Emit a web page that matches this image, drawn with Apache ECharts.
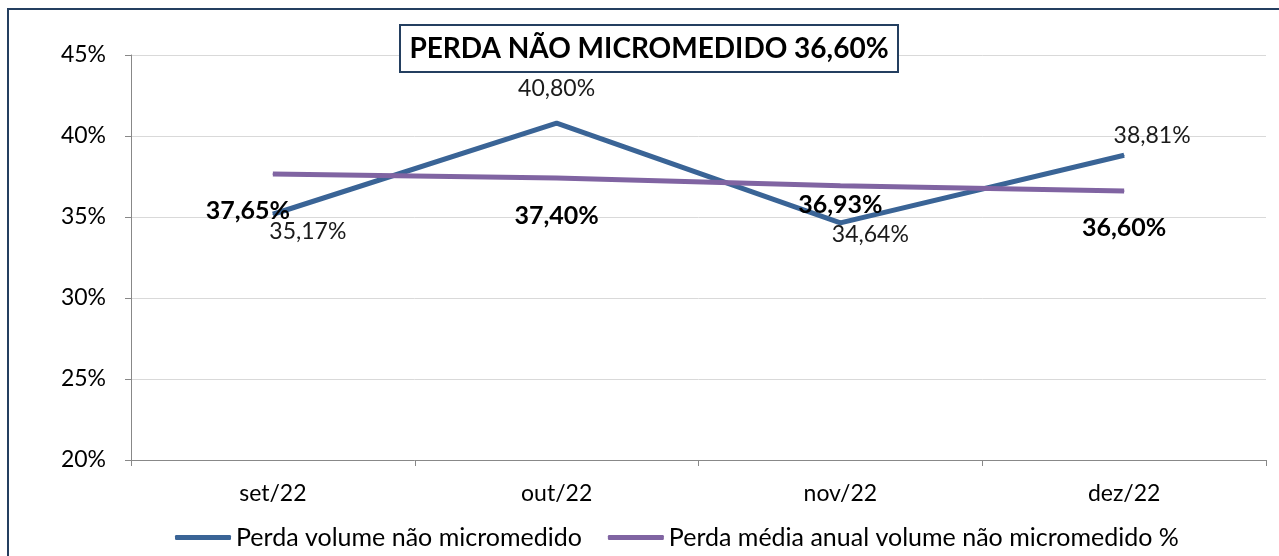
<!DOCTYPE html>
<html><head><meta charset="utf-8">
<script src="https://cdn.jsdelivr.net/npm/echarts@6/dist/echarts.min.js"></script>
<style>
html,body{margin:0;padding:0;background:#fff;overflow:hidden;}
#frame{position:absolute;left:7px;top:8px;width:1290px;height:570px;border:2px solid #243F60;box-sizing:border-box;}
#c{position:absolute;left:0;top:0;width:1279px;height:556px;}
</style></head>
<body>
<div id="frame"></div>
<div id="c"></div>
<script>
const categories = ['set/22','out/22','nov/22','dez/22'];
const perdaVolume = [35.17, 40.80, 34.64, 38.81];
const perdaMedia = [37.65, 37.40, 36.93, 36.60];
const yTicks = [20, 25, 30, 35, 40, 45];
const titleText = 'PERDA NÃO MICROMEDIDO 36,60%';
const seriesNames = ['Perda volume não micromedido', 'Perda média anual volume não micromedido %'];

const FONT = 'Lato';
const fmt = v => v.toFixed(2).replace('.', ',') + '%';

// label centre offsets from the data point
const blueLabelOffset = [[35,17],[0,-34],[30,12],[28,-20]];
const purpleLabelOffset = [[-25,37],[0,38],[0,19],[0,37]];

const chart = echarts.init(document.getElementById('c'), null, {renderer:'canvas'});
chart.setOption({
  animation:false,
  textStyle:{fontFamily:FONT},
  title:{
    text:titleText, left:639, top:25, textAlign:'center',
    textStyle:{fontFamily:FONT, fontWeight:'bold', fontSize:28, color:'#000', lineHeight:28},
    borderColor:'#243F60', borderWidth:2, backgroundColor:'#fff',
    padding:[10,10,9,10]
  },
  legend:{
    top:520, left:170, itemWidth:56, itemHeight:5, itemGap:26,
    textStyle:{fontFamily:FONT, fontSize:25, color:'#000'},
    data:[{name:seriesNames[0], icon:'roundRect'},{name:seriesNames[1], icon:'roundRect'}]
  },
  grid:{left:131, right:13, top:55, bottom:96},
  xAxis:{
    type:'category', data:categories, boundaryGap:true,
    axisLine:{lineStyle:{color:'#888', width:1}},
    axisTick:{show:true, length:6, lineStyle:{color:'#888'}},
    axisLabel:{fontFamily:FONT, fontSize:23, color:'#000', margin:22}
  },
  yAxis:{
    type:'value', min:yTicks[0], max:yTicks[yTicks.length-1], interval:5,
    axisLine:{show:true, lineStyle:{color:'#888', width:1}},
    axisTick:{show:true, length:6, lineStyle:{color:'#888'}},
    splitLine:{lineStyle:{color:'#d9d9d9', width:1}},
    axisLabel:{fontFamily:FONT, fontSize:23, color:'#000', margin:25, formatter:v=>v+'%'}
  },
  series:[
    {
      name:seriesNames[0], type:'line', showSymbol:true, symbol:'circle', symbolSize:1,
      lineStyle:{color:'#3A6496', width:5}, itemStyle:{color:'#3A6496'},
      data:perdaVolume.map((v,i)=>({value:v, label:{offset:blueLabelOffset[i]}})),
      label:{show:true, position:'inside', fontFamily:FONT, fontSize:23, color:'#1a1a1a', formatter:p=>fmt(p.value)},
      z:3
    },
    {
      name:seriesNames[1], type:'line', showSymbol:true, symbol:'circle', symbolSize:1,
      lineStyle:{color:'#8064A2', width:5}, itemStyle:{color:'#8064A2'},
      data:perdaMedia.map((v,i)=>({value:v, label:{offset:purpleLabelOffset[i]}})),
      label:{show:true, position:'inside', fontFamily:FONT, fontSize:25, fontWeight:'bold', color:'#000', formatter:p=>fmt(p.value)},
      z:4
    }
  ]
});
</script>
</body></html>
